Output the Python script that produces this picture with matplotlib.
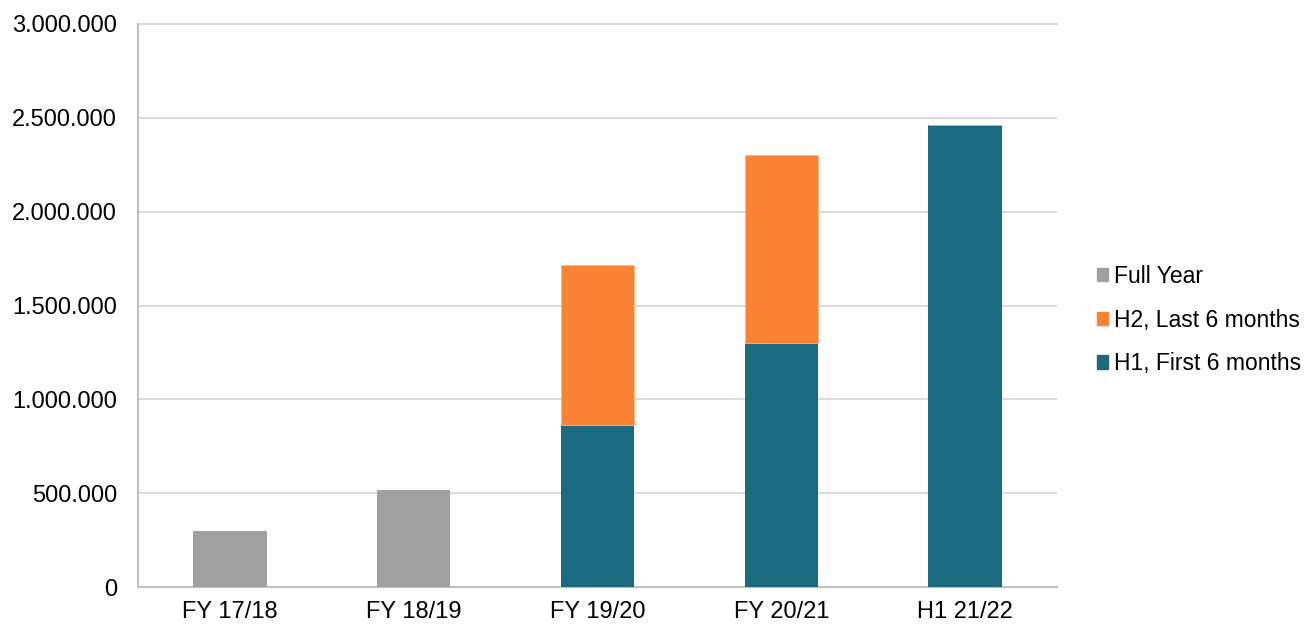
import matplotlib
matplotlib.use("Agg")
import matplotlib.pyplot as plt
from matplotlib.ticker import FuncFormatter
from matplotlib.patches import Patch

categories = ["FY 17/18", "FY 18/19", "FY 19/20", "FY 20/21", "H1 21/22"]
full_year = [298000, 515000, 0, 0, 0]
h1_first = [0, 0, 865000, 1298000, 2461000]
h2_last = [0, 0, 850000, 1003000, 0]
y_ticks = [0, 500000, 1000000, 1500000, 2000000, 2500000, 3000000]

c_gray = "#A0A0A0"
c_orange = "#FB8335"
c_teal = "#1A6A80"

plt.rcParams['font.family'] = ['Liberation Sans', 'DejaVu Sans']

fig = plt.figure(figsize=(13.13, 6.24), dpi=100)
ax = fig.add_axes([138/1313, 37/624, (1057-138)/1313, (587-24)/624])

x = list(range(len(categories)))
w = 0.40
ax.bar(x, full_year, width=w, color=c_gray, zorder=3)
ax.bar(x, h1_first, width=w, color=c_teal, zorder=3)
ax.bar(x, h2_last, width=w, bottom=h1_first, color=c_orange, zorder=3,
       edgecolor="#FDB585", linewidth=0.6)

ax.set_xlim(-0.5, len(categories) - 0.5)
ax.set_ylim(0, 3000000)
ax.set_yticks(y_ticks)
ax.yaxis.set_major_formatter(FuncFormatter(lambda v, p: f"{int(v):,}".replace(",", ".")))
ax.set_xticks(x)
ax.set_xticklabels(categories)
ax.tick_params(axis='both', length=0, labelsize=17, colors="#000000")
ax.tick_params(axis='y', pad=15)
ax.tick_params(axis='x', pad=10)

ax.grid(axis='y', color="#D9D9D9", linewidth=1.3, zorder=0)
for s in ["top", "right"]:
    ax.spines[s].set_visible(False)
ax.spines["left"].set_color("#BFBFBF")
ax.spines["left"].set_linewidth(1.5)
ax.spines["bottom"].set_color("#BFBFBF")
ax.spines["bottom"].set_linewidth(1.5)
ax.axhline(3000000, color="#D9D9D9", linewidth=1.3, zorder=0, clip_on=False)

handles = [Patch(color=c_gray, label="Full Year"),
           Patch(color=c_orange, label="H2, Last 6 months"),
           Patch(color=c_teal, label="H1, First 6 months")]
fig.legend(handles=handles, loc="center left", bbox_to_anchor=(1097/1313, (624-320)/624),
           frameon=False, fontsize=16.5, handlelength=0.5, handleheight=0.5,
           handletextpad=0.25, labelspacing=0.9, borderpad=0, borderaxespad=0)

fig.savefig("out.png", dpi=100)
